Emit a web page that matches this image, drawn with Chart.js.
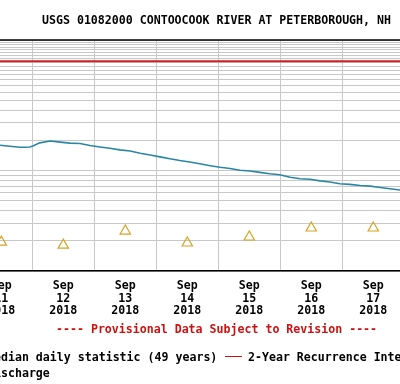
<!DOCTYPE html>
<html>
<head>
<meta charset="utf-8">
<script src="https://cdn.jsdelivr.net/npm/chart.js@4.4.0/dist/chart.umd.min.js"></script>
<style>
  html, body { margin: 0; padding: 0; background: #fff; }
  canvas { display: block; }
</style>
</head>
<body>
<canvas id="grafico" width="400" height="384"></canvas>
<script>
// Tiempo en dias de septiembre 2018 (11.5 = 11 sep, mediodia)
const dischargeDays = [11.48, 11.64, 11.80, 11.88, 11.96, 12.01, 12.12, 12.29, 12.45, 12.61, 12.77, 12.93,
    13.09, 13.25, 13.41, 13.58, 13.74, 13.90, 14.06, 14.22, 14.38, 14.54, 14.70, 14.87,
    15.03, 15.19, 15.35, 15.51, 15.67, 15.83, 15.99, 16.16, 16.32, 16.48, 16.64, 16.80, 16.96,
    17.12, 17.29, 17.45, 17.61, 17.77, 17.93];
const dischargeCfs = [179, 175, 171, 171, 172, 176, 189, 197, 192, 188, 186, 178,
    172, 167, 161, 157, 149, 143, 137, 131, 126, 122, 117, 112,
    108, 105, 101, 99, 96, 93, 91, 86, 83, 82, 79, 77, 74,
    73, 71, 70, 68, 66, 64];

const medianDays = [11.5, 12.5, 13.5, 14.5, 15.5, 16.5, 17.5];
const medianCfs = [19.4, 18.1, 25.0, 19.0, 21.8, 26.8, 26.8];

const recurrence2yr = 1230;

const xTickDays = [11.5, 12, 12.5, 13, 13.5, 14, 14.5, 15, 15.5, 16, 16.5, 17, 17.5];
const dayLabels = ['11', '12', '13', '14', '15', '16', '17'];
const monthLabel = 'Sep';
const yearLabel = '2018';

const yGridCfs = [10, 20, 30, 40, 50, 60, 70, 80, 90, 100, 200, 300, 400, 500, 600, 700, 800, 900,
    1000, 1100, 1200, 1300, 1400, 1500, 1600, 1700, 1800, 1900, 2000];

const xMin = 11.479;
const xMax = 17.931;

const fuente = '"DejaVu Sans Mono", "Liberation Mono", monospace';

const textos = {
    id: 'textos',
    afterDraw(chart) {
        const c = chart.ctx;
        const area = chart.chartArea;
        c.save();
        // borde superior
        c.strokeStyle = '#000';
        c.lineWidth = 1.5;
        c.beginPath();
        c.moveTo(0, area.top);
        c.lineTo(chart.width, area.top);
        c.stroke();

        c.font = 'bold 11.6px ' + fuente;
        c.textBaseline = 'alphabetic';
        c.textAlign = 'left';
        c.fillStyle = '#000';
        c.fillText('USGS 01082000 CONTOOCOOK RIVER AT PETERBOROUGH, NH', 42, 24);

        c.fillStyle = '#cc1111';
        c.fillText('---- Provisional Data Subject to Revision ----', 56, 333);

        c.fillStyle = '#000';
        c.fillText('Median daily statistic (49 years)', -13, 360.5);
        c.fillText('2-Year Recurrence Interval', 248, 360.5);
        c.fillText('Discharge', -13, 376.5);

        c.strokeStyle = '#cc1111';
        c.lineWidth = 1;
        c.beginPath();
        c.moveTo(225, 356.5);
        c.lineTo(242, 356.5);
        c.stroke();
        c.restore();
    }
};

const ctx = document.getElementById('grafico').getContext('2d');

let chart = new Chart(ctx, {
    type: 'line',
    data: {
        datasets: [{
            label: 'Discharge',
            data: dischargeDays.map((d, i) => ({ x: d, y: dischargeCfs[i] })),
            borderColor: '#2a86a5',
            borderWidth: 1.6,
            pointRadius: 0,
            tension: 0
        }, {
            label: '2-Year Recurrence Interval',
            data: [{ x: xMin, y: recurrence2yr }, { x: xMax, y: recurrence2yr }],
            borderColor: '#cc2222',
            borderWidth: 2,
            pointRadius: 0
        }, {
            label: 'Median daily statistic (49 years)',
            data: medianDays.map((d, i) => ({ x: d, y: medianCfs[i] })),
            showLine: false,
            pointStyle: 'triangle',
            pointRadius: 6,
            pointBorderColor: '#d6a326',
            pointBackgroundColor: 'rgba(255,255,255,0)',
            pointBorderWidth: 1.2,
            clip: false
        }]
    },
    options: {
        responsive: false,
        animation: false,
        events: [],
        layout: { autoPadding: false, padding: { top: 40, left: 0, right: 0, bottom: 0 } },
        plugins: {
            legend: { display: false },
            tooltip: { enabled: false },
            title: { display: false }
        },
        scales: {
            x: {
                type: 'linear',
                min: xMin,
                max: xMax,
                afterBuildTicks: (scale) => {
                    scale.ticks = xTickDays.map(v => ({ value: v }));
                },
                afterFit: (scale) => {
                    scale.height = 384 - 271;
                    scale.paddingLeft = 0;
                    scale.paddingRight = 0;
                },
                grid: {
                    drawTicks: false,
                    lineWidth: 1,
                    color: (c) => (c.tick && Number.isInteger(c.tick.value)) ? '#c8c8c8' : 'rgba(0,0,0,0)'
                },
                border: { display: true, color: '#000', width: 1.5 },
                ticks: {
                    autoSkip: false,
                    maxRotation: 0,
                    padding: 8,
                    color: '#000',
                    font: { family: fuente, size: 11.6, weight: 'bold', lineHeight: 1.12 },
                    callback: (v) => {
                        if (Number.isInteger(v)) return '';
                        return [monthLabel, dayLabels[Math.floor(v) - 11], yearLabel];
                    }
                }
            },
            y: {
                type: 'logarithmic',
                min: 10,
                max: 2000,
                afterBuildTicks: (scale) => {
                    scale.ticks = yGridCfs.map(v => ({ value: v }));
                },
                afterFit: (scale) => {
                    scale.width = 0;
                },
                grid: { drawTicks: false, color: '#c8c8c8', lineWidth: 1 },
                border: { display: false },
                ticks: { display: false }
            }
        }
    },
    plugins: [textos]
});
</script>
</body>
</html>
